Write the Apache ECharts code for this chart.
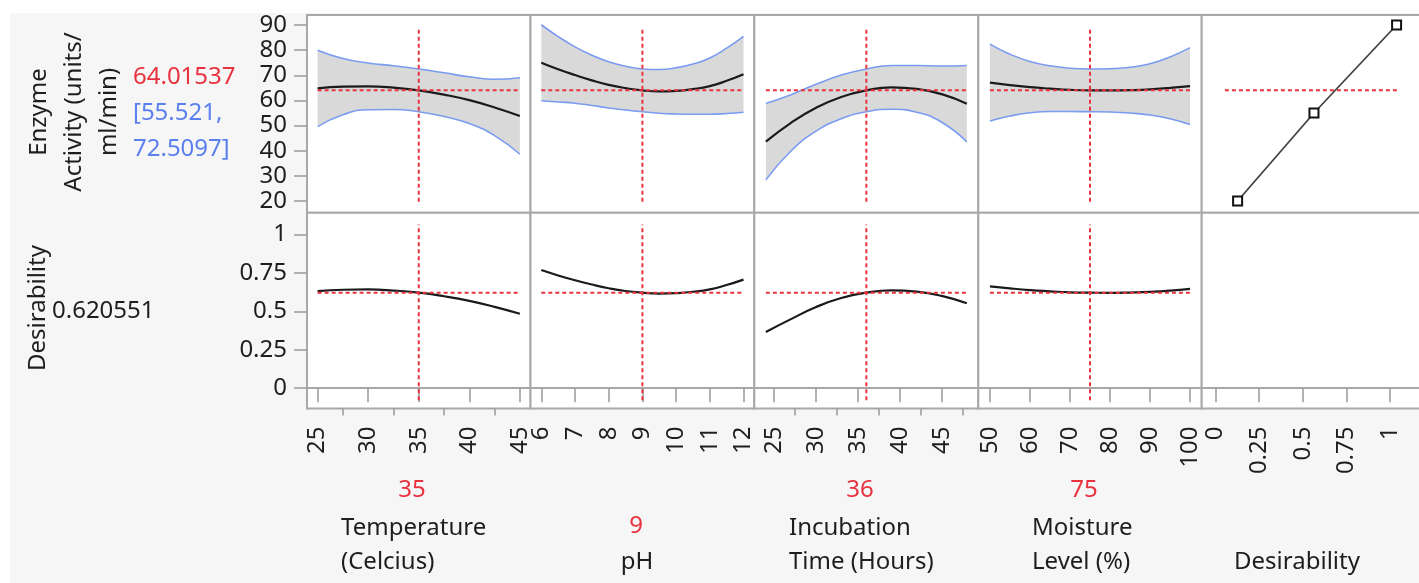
<!DOCTYPE html>
<html><head><meta charset="utf-8">
<style>
html,body{margin:0;padding:0;background:#fff;overflow:hidden;}
#bg{position:absolute;left:10px;top:13px;width:1409px;height:570px;background:#f6f6f6;}
#c{position:absolute;left:0;top:0;width:1419px;height:583px;}
</style>
<script src="https://cdn.jsdelivr.net/npm/echarts@6/dist/echarts.min.js"></script>
</head><body><div id="bg"></div><div id="c"></div>
<script>
// ---------- data ----------
const factorTitles = [['Temperature','(Celcius)'], ['pH'], ['Incubation','Time (Hours)'], ['Moisture','Level (%)']];
const currentX = [35, 9, 36, 75];
const predicted = 64.01537;
const ciText = ['[55.521,', '72.5097]'];
const desirabilityValue = 0.620551;

const tempX     = [25, 27.5, 30, 32.5, 35, 37.5, 40, 42.5, 45];
const tempMean  = [64.8, 65.5, 65.6, 65.1, 64.0, 62.3, 60.1, 57.2, 53.8];
const tempUpper = [80.0, 76.7, 74.9, 73.8, 72.5, 71.0, 69.4, 68.4, 69.0];
const tempLower = [49.6, 54.3, 56.3, 56.4, 55.5, 53.6, 50.8, 46.0, 38.6];
const tempDes   = [0.631, 0.640, 0.642, 0.635, 0.621, 0.598, 0.568, 0.529, 0.484];

const phX     = [6, 6.5, 7, 7.5, 8, 8.5, 9, 9.5, 10, 10.5, 11, 11.5, 12];
const phMean  = [75.0, 72.4, 70.1, 68.0, 66.2, 64.9, 64.0, 63.6, 63.8, 64.5, 65.7, 67.8, 70.4];
const phUpper = [90.1, 85.4, 81.3, 78.0, 75.4, 73.6, 72.5, 72.3, 73.0, 74.5, 76.9, 80.8, 85.5];
const phLower = [59.9, 59.4, 58.9, 58.0, 57.0, 56.2, 55.5, 54.9, 54.6, 54.5, 54.5, 54.8, 55.3];
const phDes   = [0.768, 0.733, 0.702, 0.674, 0.650, 0.632, 0.621, 0.615, 0.618, 0.627, 0.643, 0.671, 0.706];

const incX     = [24, 27, 30, 33, 36, 39, 42, 45, 48];
const incMean  = [43.6, 51.1, 57.1, 61.4, 64.0, 65.2, 64.6, 62.5, 58.7];
const incUpper = [58.8, 62.3, 66.4, 70.1, 72.5, 73.9, 73.9, 73.7, 73.9];
const incLower = [28.4, 39.9, 47.8, 52.7, 55.5, 56.5, 55.3, 51.3, 43.5];
const incDes   = [0.366, 0.449, 0.528, 0.586, 0.621, 0.636, 0.628, 0.600, 0.552];

const moistX     = [50, 55, 60, 65, 70, 75, 80, 85, 90, 95, 100];
const moistMean  = [67.1, 66.1, 65.3, 64.7, 64.2, 64.0, 64.0, 64.1, 64.4, 65.0, 65.7];
const moistUpper = [82.4, 78.4, 75.5, 73.8, 72.8, 72.5, 72.6, 73.2, 74.6, 77.3, 81.0];
const moistLower = [51.8, 53.8, 55.1, 55.6, 55.6, 55.5, 55.4, 55.0, 54.2, 52.7, 50.4];
const moistDes   = [0.662, 0.649, 0.638, 0.630, 0.623, 0.621, 0.620, 0.622, 0.626, 0.634, 0.646];

// desirability function (desirability, response)
const desFnD = [0.126, 0.564, 1.038];
const desFnY = [20, 55, 90];
const desFnRefD = [0.053, 1.057];

// tick labels
const tempTicks  = [25, 30, 35, 40, 45];
const tempMinor  = [27.5, 32.5, 37.5, 42.5];
const phTicks    = [6, 7, 8, 9, 10, 11, 12];
const incTicks   = [25, 30, 35, 40, 45];
const incMinor   = [27.5, 32.5, 37.5, 42.5, 47.5];
const moistTicks = [50, 60, 70, 80, 90, 100];
const desXTicks  = [0, 0.25, 0.5, 0.75, 1];
const respTicks  = [20, 30, 40, 50, 60, 70, 80, 90];
const desYTicks  = [0, 0.25, 0.5, 0.75, 1];

// axis ranges
const xRanges = [[23.95, 46.05], [5.68, 12.32], [22.62, 49.37], [47.1, 102.9], [-0.08, 1.205]];
const respRange = [15.35, 93.98];
const desRange = [-0.132, 1.141];
const refSpanResp = [19.7, 88.7];
const refSpanDes = [-0.078, 1.065];

// ---------- layout ----------
const colLeft = [307, 530.5, 754.3, 978.3, 1201.7];
const colWidth = [223.5, 223.8, 224, 223.4, 224];
const rowTop = [15, 212.7];
const rowHeight = [197.7, 195.8];
const FONT = 'Noto Sans';
const FS = 24;
const TXT = '#1e1e1e';
const RED = '#e8323f';
const BLUE = '#7a9bf0';
const GRID_C = '#a8a8a8';
const TICK_C = '#9a9a9a';

const factors = [
  {x: tempX, mean: tempMean, up: tempUpper, lo: tempLower, des: tempDes, minor: tempMinor},
  {x: phX, mean: phMean, up: phUpper, lo: phLower, des: phDes, minor: null},
  {x: incX, mean: incMean, up: incUpper, lo: incLower, des: incDes, minor: incMinor},
  {x: moistX, mean: moistMean, up: moistUpper, lo: moistLower, des: moistDes, minor: null}
];

const pairs = (xs, ys) => xs.map((x, i) => [x, ys[i]]);
// y first so that stacking applies to the y dimension
const pairsYX = (xs, ys) => xs.map((x, i) => [ys[i], x]);

const grids = [];
for (let r = 0; r < 2; r++) for (let c = 0; c < 5; c++) {
  grids.push({left: colLeft[c], top: rowTop[r], width: colWidth[c], height: rowHeight[r],
    show: true, backgroundColor: '#ffffff', borderColor: GRID_C, borderWidth: 2,
    containLabel: false, outerBoundsMode: 'none'});
}

const labelStyle = {fontFamily: FONT, fontSize: FS, color: TXT};
const xAxes = [];
const yAxes = [];
const xTickSets = [tempTicks, phTicks, incTicks, moistTicks, desXTicks];
for (let c = 0; c < 5; c++) {
  xAxes.push({type: 'value', gridIndex: c, min: xRanges[c][0], max: xRanges[c][1], show: false});
}
for (let c = 0; c < 5; c++) {
  xAxes.push({type: 'value', gridIndex: 5 + c, min: xRanges[c][0], max: xRanges[c][1], position: 'bottom',
    axisLine: {show: true, lineStyle: {color: GRID_C, width: 2}},
    axisTick: {show: true, length: 14, customValues: xTickSets[c], lineStyle: {color: TICK_C, width: 1.5}},
    axisLabel: Object.assign({show: true, customValues: xTickSets[c], rotate: 90, margin: 18,
      formatter: v => String(v)}, labelStyle),
    splitLine: {show: false}});
}
factors.forEach((f, c) => {
  if (!f.minor) return;
  xAxes.push({type: 'value', gridIndex: 5 + c, min: xRanges[c][0], max: xRanges[c][1], position: 'bottom',
    axisLine: {show: false},
    axisTick: {show: true, length: 7, customValues: f.minor, lineStyle: {color: TICK_C, width: 1.5}},
    axisLabel: {show: false}, splitLine: {show: false}});
});
for (let r = 0; r < 2; r++) for (let c = 0; c < 5; c++) {
  const range = r === 0 ? respRange : desRange;
  const ticks = r === 0 ? respTicks : desYTicks;
  if (c === 0) {
    yAxes.push({type: 'value', gridIndex: r * 5 + c, min: range[0], max: range[1],
      axisLine: {show: true, lineStyle: {color: GRID_C, width: 2}},
      axisTick: {show: true, length: 13, customValues: ticks, lineStyle: {color: TICK_C, width: 1.5}},
      axisLabel: Object.assign({show: true, customValues: ticks, margin: 20, formatter: v => String(v)}, labelStyle),
      splitLine: {show: false}});
  } else {
    yAxes.push({type: 'value', gridIndex: r * 5 + c, min: range[0], max: range[1], show: false});
  }
}

const series = [];
const refStyle = {color: RED, width: 2, type: [4, 3]};
function refLine(xi, yi, data) {
  series.push({type: 'line', xAxisIndex: xi, yAxisIndex: yi, data, symbol: 'none', silent: true,
    lineStyle: refStyle, z: 6});
}
factors.forEach((f, c) => {
  const width = f.up.map((u, i) => u - f.lo[i]);
  // confidence band as a stack: invisible lower + filled width
  series.push({type: 'line', xAxisIndex: c, yAxisIndex: c, stack: 'ci' + c, data: pairsYX(f.x, f.lo),
    encode: {x: 1, y: 0}, symbol: 'none', smooth: true, lineStyle: {opacity: 0}, silent: true, z: 1});
  series.push({type: 'line', xAxisIndex: c, yAxisIndex: c, stack: 'ci' + c, data: pairsYX(f.x, width),
    encode: {x: 1, y: 0}, symbol: 'none', smooth: true, lineStyle: {opacity: 0}, silent: true, z: 1,
    areaStyle: {color: '#d9d9d9', opacity: 1}});
  series.push({type: 'line', xAxisIndex: c, yAxisIndex: c, data: pairs(f.x, f.lo), symbol: 'none', smooth: true,
    lineStyle: {color: BLUE, width: 1.6}, z: 3});
  series.push({type: 'line', xAxisIndex: c, yAxisIndex: c, data: pairs(f.x, f.up), symbol: 'none', smooth: true,
    lineStyle: {color: BLUE, width: 1.6}, z: 3});
  series.push({type: 'line', xAxisIndex: c, yAxisIndex: c, data: pairs(f.x, f.mean), symbol: 'none', smooth: true,
    lineStyle: {color: '#1a1a1a', width: 2.2}, z: 4});
  const x0 = f.x[0], x1 = f.x[f.x.length - 1];
  refLine(c, c, [[currentX[c], refSpanResp[0]], [currentX[c], refSpanResp[1]]]);
  refLine(c, c, [[x0, predicted], [x1, predicted]]);
  series.push({type: 'line', xAxisIndex: 5 + c, yAxisIndex: 5 + c, data: pairs(f.x, f.des), symbol: 'none', smooth: true,
    lineStyle: {color: '#1a1a1a', width: 2.2}, z: 4});
  refLine(5 + c, 5 + c, [[currentX[c], refSpanDes[0]], [currentX[c], refSpanDes[1]]]);
  refLine(5 + c, 5 + c, [[x0, desirabilityValue], [x1, desirabilityValue]]);
});
refLine(4, 4, [[desFnRefD[0], predicted], [desFnRefD[1], predicted]]);
series.push({type: 'line', xAxisIndex: 4, yAxisIndex: 4, data: pairs(desFnD, desFnY),
  symbol: 'rect', symbolSize: 9, showAllSymbol: true,
  itemStyle: {color: '#ffffff', borderColor: '#111', borderWidth: 2},
  lineStyle: {color: '#444', width: 1.8}, z: 7});

// ---------- text ----------
const graphics = [];
function txt(text, x, y, opts) {
  opts = opts || {};
  graphics.push({type: 'text', x, y, rotation: opts.rot || 0, silent: true, z: 10,
    style: {text, fill: opts.color || TXT, font: (opts.size || FS) + 'px "' + FONT + '"',
      textAlign: opts.align || 'left', textVerticalAlign: 'middle', lineHeight: opts.lh || 34}});
}
txt('Enzyme\nActivity (units/\nml/min)', 74, 112, {rot: Math.PI / 2, align: 'center', lh: 35});
txt(predicted.toFixed(5), 133, 77, {color: RED});
txt(ciText[0], 133, 113, {color: '#5b80ee'});
txt(ciText[1], 133, 149, {color: '#5b80ee'});
txt('Desirability', 38, 308, {rot: Math.PI / 2, align: 'center'});
txt(String(desirabilityValue), 52, 311);

txt(String(currentX[0]), 412, 490, {color: RED, align: 'center'});
txt(factorTitles[0][0], 341, 528);
txt(factorTitles[0][1], 341, 562);
txt(String(currentX[1]), 636, 526, {color: RED, align: 'center'});
txt(factorTitles[1][0], 637, 562, {align: 'center'});
txt(String(currentX[2]), 860, 490, {color: RED, align: 'center'});
txt(factorTitles[2][0], 789, 528);
txt(factorTitles[2][1], 789, 562);
txt(String(currentX[3]), 1084, 490, {color: RED, align: 'center'});
txt(factorTitles[3][0], 1032, 528);
txt(factorTitles[3][1], 1032, 562);
txt('Desirability', 1297, 562, {align: 'center'});

const chart = echarts.init(document.getElementById('c'), null, {renderer: 'canvas'});
chart.setOption({
  backgroundColor: 'transparent',
  animation: false,
  grid: grids,
  xAxis: xAxes,
  yAxis: yAxes,
  series,
  graphic: {elements: graphics}
});
</script>
</body></html>
